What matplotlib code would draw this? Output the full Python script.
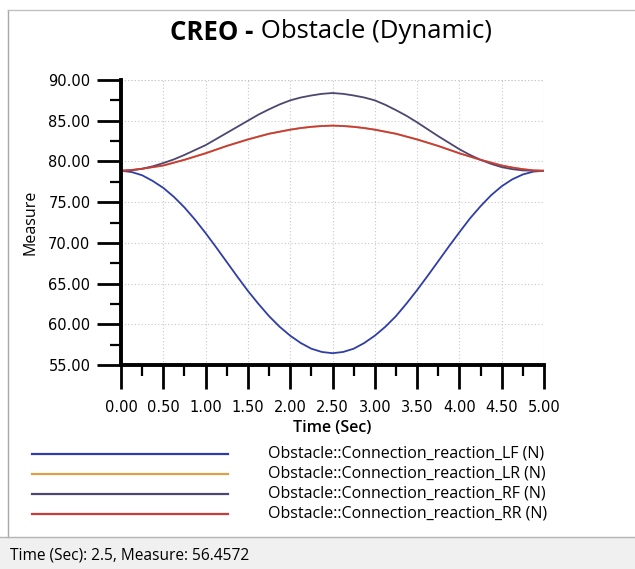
import matplotlib
matplotlib.use("Agg")
import matplotlib.pyplot as plt
from matplotlib.lines import Line2D
from matplotlib.patches import Rectangle
from matplotlib.ticker import MultipleLocator, FormatStrFormatter

# time samples (s)
time_sec = [0.0, 0.125, 0.25, 0.375, 0.5, 0.625, 0.75, 0.875, 1.0, 1.125,
            1.25, 1.375, 1.5, 1.625, 1.75, 1.875, 2.0, 2.125, 2.25, 2.375,
            2.5, 2.625, 2.75, 2.875, 3.0, 3.125, 3.25, 3.375, 3.5, 3.625,
            3.75, 3.875, 4.0, 4.125, 4.25, 4.375, 4.5, 4.625, 4.75, 4.875, 5.0]

# connection reactions (N)
react_lf = [78.85, 78.7, 78.3, 77.6, 76.75, 75.65, 74.35, 72.85, 71.2, 69.45,
            67.65, 65.85, 64.1, 62.5, 61.0, 59.7, 58.6, 57.7, 57.0, 56.6,
            56.45, 56.6, 57.0, 57.7, 58.6, 59.7, 61.0, 62.55, 64.2, 65.95,
            67.75, 69.55, 71.3, 73.0, 74.5, 75.85, 76.95, 77.8, 78.4, 78.75, 78.85]
react_lr = [78.85, 78.95, 79.1, 79.3, 79.5, 79.85, 80.2, 80.6, 81.0, 81.45,
            81.9, 82.3, 82.7, 83.05, 83.4, 83.65, 83.9, 84.1, 84.25, 84.35,
            84.4, 84.35, 84.25, 84.1, 83.9, 83.65, 83.4, 83.05, 82.7, 82.3,
            81.9, 81.45, 81.0, 80.6, 80.2, 79.85, 79.5, 79.25, 79.05, 78.9, 78.85]
react_rf = [78.85, 78.9, 79.1, 79.4, 79.8, 80.25, 80.8, 81.4, 82.0, 82.75,
            83.5, 84.25, 85.0, 85.75, 86.4, 87.0, 87.5, 87.85, 88.1, 88.3,
            88.4, 88.3, 88.1, 87.85, 87.5, 86.95, 86.3, 85.6, 84.8, 83.95,
            83.1, 82.3, 81.5, 80.8, 80.2, 79.7, 79.3, 79.05, 78.9, 78.85, 78.85]
react_rr = [78.85, 78.95, 79.1, 79.3, 79.5, 79.85, 80.2, 80.6, 81.0, 81.45,
            81.9, 82.3, 82.7, 83.05, 83.4, 83.65, 83.9, 84.1, 84.25, 84.35,
            84.4, 84.35, 84.25, 84.1, 83.9, 83.65, 83.4, 83.05, 82.7, 82.3,
            81.9, 81.45, 81.0, 80.6, 80.2, 79.85, 79.5, 79.25, 79.05, 78.9, 78.85]

labels = ["Obstacle::Connection_reaction_LF (N)",
          "Obstacle::Connection_reaction_LR (N)",
          "Obstacle::Connection_reaction_RF (N)",
          "Obstacle::Connection_reaction_RR (N)"]
colors = ["#2f3ea6", "#d9a24a", "#4e4670", "#c83c3c"]
series = [react_lf, react_lr, react_rf, react_rr]

ui_font = "Open Sans"

fig = plt.figure(figsize=(6.35, 5.69), dpi=100)
fig.patch.set_facecolor("white")

ax = fig.add_axes([121 / 635, 1 - 365 / 569, 423 / 635, 285 / 569])
for vals, c in zip(series, colors):
    ax.plot(time_sec, vals, color=c, linewidth=1.3)

ax.set_xlim(0, 5)
ax.set_ylim(55, 90)
ax.xaxis.set_major_locator(MultipleLocator(0.5))
ax.xaxis.set_minor_locator(MultipleLocator(0.25))
ax.yaxis.set_major_locator(MultipleLocator(5))
ax.yaxis.set_minor_locator(MultipleLocator(2.5))
ax.xaxis.set_major_formatter(FormatStrFormatter("%.2f"))
ax.yaxis.set_major_formatter(FormatStrFormatter("%.2f"))

ax.spines["top"].set_visible(False)
ax.spines["right"].set_visible(False)
ax.spines["left"].set_linewidth(2.8)
ax.spines["bottom"].set_linewidth(2.8)
ax.tick_params(which="major", length=17, width=2.0, labelsize=10.5)
ax.tick_params(axis="x", which="major", pad=8)
ax.tick_params(axis="y", which="major", pad=5)
ax.tick_params(which="minor", length=8, width=1.6)
ax.grid(True, which="major", linestyle=(0, (1, 2)), color="#c8c8c8", linewidth=0.8)
# dotted border on top/right like the grid
ax.axhline(90, linestyle=(0, (1, 2)), color="#c8c8c8", linewidth=0.8)
ax.axvline(5, linestyle=(0, (1, 2)), color="#c8c8c8", linewidth=0.8)

ax.set_ylabel("Measure", fontsize=11.5, family=ui_font, labelpad=7)
ax.set_xlabel("Time (Sec)", fontsize=11.5, family=ui_font, fontweight="semibold", labelpad=4)

# title: bold prefix + regular text, centred together
renderer = fig.canvas.get_renderer()
t1 = fig.text(0, 1 - 32 / 569, "CREO -", fontsize=18.5, family=ui_font,
              fontweight="bold", va="center")
t2 = fig.text(0, 1 - 32 / 569, " Obstacle (Dynamic)", fontsize=18.5, family=ui_font,
              va="center")
w1 = t1.get_window_extent(renderer).width / fig.bbox.width
w2 = t2.get_window_extent(renderer).width / fig.bbox.width
x0 = 331 / 635 - (w1 + w2) / 2
t1.set_x(x0)
t2.set_x(x0 + w1)

# legend rows under the axis
for i, (lab, c) in enumerate(zip(labels, colors)):
    yy = 1 - (454 + 20 * i) / 569
    fig.add_artist(Line2D([32 / 635, 228 / 635], [yy, yy], color=c, linewidth=1.6,
                          transform=fig.transFigure))
    fig.text(268 / 635, yy, lab, fontsize=11.5, family=ui_font, va="center")

# window frame and status bar
fig.add_artist(Line2D([8 / 635, 8 / 635], [1 - 537 / 569, 1 - 10 / 569], color="#a8a8a8",
                      linewidth=1.0, transform=fig.transFigure))
fig.add_artist(Line2D([8 / 635, 1], [1 - 10 / 569, 1 - 10 / 569], color="#c0c0c0",
                      linewidth=1.0, transform=fig.transFigure))
fig.add_artist(Rectangle((0, 0), 1, 1 - 537 / 569, facecolor="#f0f0f0", edgecolor="none",
                         transform=fig.transFigure))
fig.add_artist(Line2D([0, 1], [1 - 537 / 569, 1 - 537 / 569], color="#b4b4b4",
                      linewidth=1.0, transform=fig.transFigure))
fig.text(10 / 635, 1 - 555 / 569, "Time (Sec): 2.5, Measure: 56.4572", fontsize=11.2,
         family=ui_font, va="center")

fig.savefig("out.png", dpi=100)
